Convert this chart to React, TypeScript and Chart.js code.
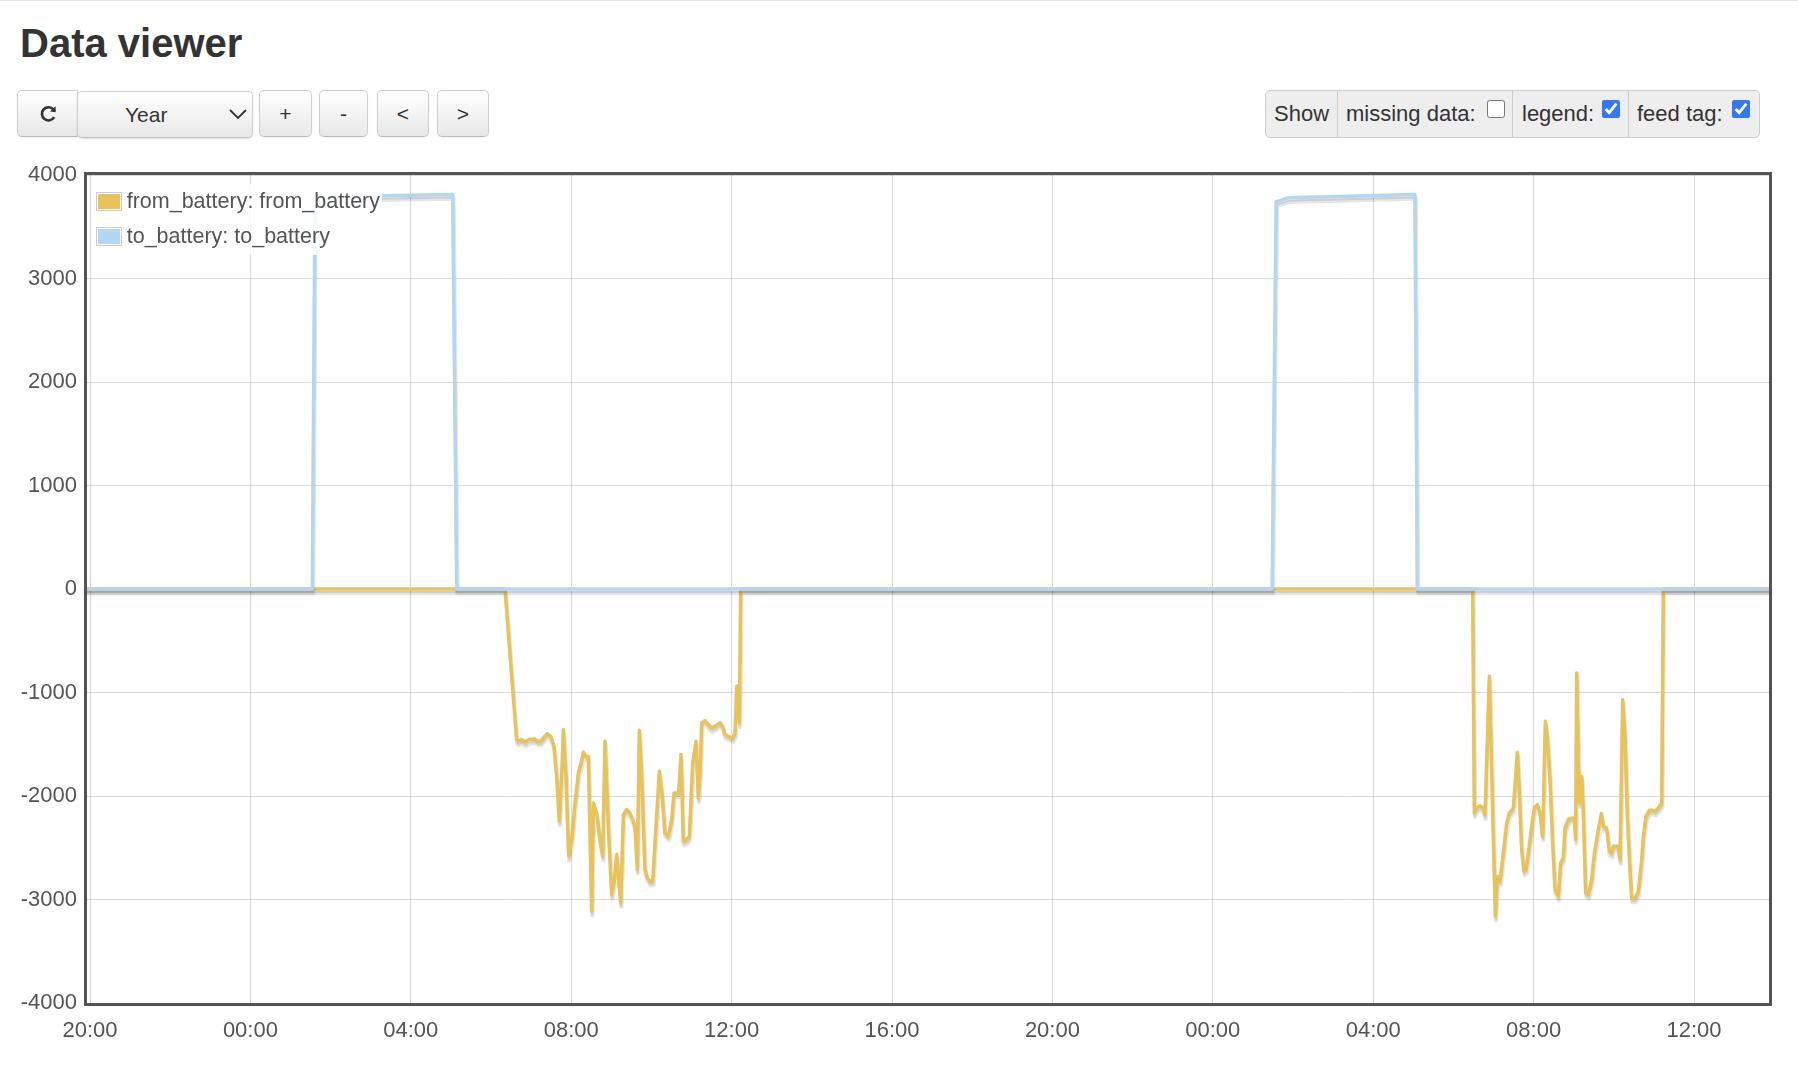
import React, { useEffect, useRef } from "react";
import { Chart, registerables } from "chart.js";

Chart.register(...registerables);

// x values are hours elapsed since 20:00 on the first day
const fromBatteryHours = [
  -0.1, 10.349, 10.64, 10.682, 10.765, 10.848, 10.931, 11.097, 11.155, 11.239, 11.305, 11.405, 11.488, 11.571,
  11.638, 11.704, 11.771, 11.804, 11.87, 11.937, 12.012, 12.095, 12.178, 12.244, 12.303, 12.369, 12.427, 12.51,
  12.552, 12.635, 12.718, 12.785, 12.843, 12.926, 13.009, 13.076, 13.134, 13.234, 13.3, 13.383, 13.466, 13.533,
  13.591, 13.649, 13.699, 13.757, 13.84, 13.899, 13.965, 14.032, 14.115, 14.198, 14.264, 14.339, 14.422, 14.506,
  14.564, 14.63, 14.68, 14.738, 14.796, 14.88, 14.946, 15.029, 15.112, 15.17, 15.212, 15.254, 15.337, 15.42,
  15.503, 15.586, 15.711, 15.777, 15.835, 15.918, 16.027, 16.085, 16.127, 16.168, 16.193, 16.226,
  34.48, 34.522, 34.58, 34.663, 34.73, 34.788, 34.896, 35.046, 35.096, 35.162, 35.245, 35.328, 35.395, 35.453,
  35.495, 35.594, 35.644, 35.703, 35.761, 35.81, 35.869, 35.952, 36.018, 36.093, 36.16, 36.226, 36.293, 36.342,
  36.409, 36.475, 36.534, 36.617, 36.675, 36.741, 36.783, 36.866, 36.949, 37.016, 37.049, 37.074, 37.116, 37.141,
  37.199, 37.24, 37.299, 37.365, 37.448, 37.515, 37.614, 37.689, 37.739, 37.822, 37.889, 37.947, 37.988, 38.055,
  38.113, 38.155, 38.221, 38.279, 38.338, 38.404, 38.446, 38.529, 38.612, 38.695, 38.737, 38.803, 38.886, 38.969,
  39.027, 39.111, 39.194, 39.235, 42.0,
];
const fromBatteryWatts = [
  0, 0, -1455, -1471, -1455, -1481, -1455, -1449, -1471, -1471, -1439, -1397, -1423, -1520,
  -1810, -2244, -1713, -1358, -1810, -2582, -2421, -2067, -1777, -1681, -1578, -1616, -1616, -3114,
  -2067, -2164, -2421, -2582, -1471, -2292, -2953, -2808, -2566, -3033, -2180, -2131, -2164, -2228,
  -2292, -2711, -1365, -1810, -2711, -2792, -2824, -2824, -2292, -1761, -1971, -2357, -2389, -2228,
  -1971, -1971, -1971, -1600, -2437, -2421, -2389, -1681, -1471, -2019, -1777, -1294, -1272, -1310,
  -1342, -1326, -1294, -1326, -1407, -1423, -1439, -1391, -940, -933, -1294, 0,
  0, -2164, -2116, -2093, -2116, -2180, -843, -3162, -2776, -2824, -2550, -2260, -2164, -2138,
  -2116, -1578, -1971, -2518, -2727, -2711, -2550, -2292, -2116, -2083, -2164, -2389, -1278, -1423,
  -1842, -2453, -2904, -2969, -2647, -2598, -2309, -2228, -2212, -2212, -2421, -811, -1648, -2067,
  -1810, -2164, -2936, -2953, -2808, -2550, -2325, -2170, -2292, -2309, -2534, -2550, -2486, -2486,
  -2486, -2615, -1069, -1423, -2196, -2711, -2985, -2985, -2920, -2615, -2389, -2196, -2138, -2138,
  -2148, -2116, -2067, 0, 0,
];
const toBatteryHours = [-0.1, 5.544, 5.611, 5.85, 9.045, 9.145, 29.48, 29.58, 29.88, 33.04, 33.1, 42.0];
const toBatteryWatts = [0, 0, 3750, 3790, 3811, 0, 0, 3740, 3779, 3811, 0, 0];

const seriesLabels = ["from_battery: from_battery", "to_battery: to_battery"];
const seriesColors = ["#e8c35a", "#b3d6f3"];

const xTickHours = [0, 4, 8, 12, 16, 20, 24, 28, 32, 36, 40];
const xTickLabels = ["20:00", "00:00", "04:00", "08:00", "12:00", "16:00", "20:00", "00:00", "04:00", "08:00", "12:00"];
const yTickValues = [-4000, -3000, -2000, -1000, 0, 1000, 2000, 3000, 4000];
const xMin = -0.075;
const xMax = 41.87;

const FONT = '"Liberation Sans", Arial, Helvetica, sans-serif';
const TEXT = "#545454";
const LW = 3.5;

const shadowPlugin = {
  id: "flotShadow",
  beforeDatasetDraw(chart: any, args: any) {
    const pts = args.meta.data;
    const ctx = chart.ctx;
    const ca = chart.chartArea;
    ctx.save();
    ctx.beginPath();
    ctx.rect(ca.left, ca.top, ca.right - ca.left, ca.bottom - ca.top);
    ctx.clip();
    ctx.lineJoin = "round";
    const sw = 4.5;
    const ang = Math.PI / 18;
    const passes = [
      [sw, LW / 2 + sw / 2],
      [sw / 2, LW / 2 + sw / 4],
    ];
    for (const [w, off] of passes) {
      ctx.lineWidth = w;
      ctx.strokeStyle = "rgba(0,0,0,0.1)";
      const dx = Math.sin(ang) * off;
      const dy = Math.cos(ang) * off;
      ctx.beginPath();
      pts.forEach((p: any, i: number) => {
        if (i === 0) ctx.moveTo(p.x + dx, p.y + dy);
        else ctx.lineTo(p.x + dx, p.y + dy);
      });
      ctx.stroke();
    }
    ctx.restore();
  },
};

const frameLegendPlugin = {
  id: "frameLegend",
  afterDatasetsDraw(chart: any) {
    const ctx = chart.ctx;
    const ca = chart.chartArea;
    ctx.save();
    ctx.strokeStyle = "#545454";
    ctx.lineWidth = 3;
    ctx.strokeRect(ca.left - 1.5, ca.top - 1.5, ca.right - ca.left + 3, ca.bottom - ca.top + 3);

    // legend (flot style, top-left inside the plot)
    ctx.fillStyle = "rgba(255,255,255,0.85)";
    ctx.fillRect(ca.left + 5, ca.top + 9, 290, 71);
    ctx.font = `21.5px ${FONT}`;
    ctx.textBaseline = "alphabetic";
    ctx.textAlign = "left";
    seriesLabels.forEach((label, i) => {
      const y0 = ca.top + 35 * i;
      ctx.strokeStyle = "#cccccc";
      ctx.lineWidth = 1;
      ctx.strokeRect(ca.left + 9.5, y0 + 17.5, 25, 18);
      ctx.fillStyle = seriesColors[i];
      ctx.fillRect(ca.left + 11, y0 + 19, 22, 15);
      ctx.fillStyle = TEXT;
      ctx.fillText(label, ca.left + 39.7, y0 + 33.3);
    });
    ctx.restore();
  },
};

function toPoints(xs: number[], ys: number[]) {
  return xs.map((x, i) => ({ x, y: ys[i] }));
}

const btnBase: React.CSSProperties = {
  position: "absolute",
  boxSizing: "border-box",
  background: "linear-gradient(#ffffff, #e8e8e8)",
  border: "1px solid #cfcfcf",
  borderBottomColor: "#bdbdbd",
  borderRadius: 5,
  boxShadow: "0 1px 2px rgba(0,0,0,0.06)",
  display: "flex",
  alignItems: "center",
  justifyContent: "center",
  color: "#333",
  fontFamily: FONT,
  fontSize: 21,
};

function Btn(props: { left: number; width: number; top?: number; height?: number; style?: React.CSSProperties; children?: React.ReactNode }) {
  return (
    <div
      style={{
        ...btnBase,
        left: props.left,
        top: props.top ?? 90,
        width: props.width,
        height: props.height ?? 47,
        ...(props.style || {}),
      }}
    >
      {props.children}
    </div>
  );
}

const labelSpan = (left: number, text: string): React.ReactNode => (
  <span
    style={{
      position: "absolute",
      left,
      top: 90,
      height: 48,
      display: "flex",
      alignItems: "center",
      fontFamily: FONT,
      fontSize: 22,
      color: "#333",
      whiteSpace: "nowrap",
    }}
  >
    {text}
  </span>
);

const checkbox = (left: number, checked: boolean): React.ReactNode => (
  <input
    type="checkbox"
    checked={checked}
    readOnly
    style={{
      position: "absolute",
      left,
      top: 100,
      width: 18,
      height: 18,
      margin: 0,
      accentColor: "#3478f6",
    }}
  />
);

export default function App() {
  const canvasRef = useRef<HTMLCanvasElement | null>(null);

  useEffect(() => {
    if (!canvasRef.current) return;
    const chart = new Chart(canvasRef.current, {
      type: "line",
      data: {
        datasets: [
          {
            label: seriesLabels[0],
            data: toPoints(fromBatteryHours, fromBatteryWatts),
            borderColor: seriesColors[0],
            backgroundColor: seriesColors[0],
            borderWidth: LW,
            borderJoinStyle: "round",
            pointRadius: 0,
            tension: 0,
            fill: false,
            order: 1,
          },
          {
            label: seriesLabels[1],
            data: toPoints(toBatteryHours, toBatteryWatts),
            borderColor: seriesColors[1],
            backgroundColor: seriesColors[1],
            borderWidth: LW,
            borderJoinStyle: "round",
            pointRadius: 0,
            tension: 0,
            fill: false,
            order: 0,
          },
        ],
      },
      options: {
        animation: false,
        responsive: false,
        maintainAspectRatio: false,
        layout: { padding: { top: 35, right: 29, left: 0, bottom: 0 } },
        plugins: { legend: { display: false }, tooltip: { enabled: false } },
        scales: {
          x: {
            type: "linear",
            min: xMin,
            max: xMax,
            afterBuildTicks: (s: any) => {
              s.ticks = xTickHours.map((v) => ({ value: v }));
            },
            afterFit: (s: any) => {
              s.height = 62;
            },
            ticks: {
              autoSkip: false,
              maxRotation: 0,
              padding: 15,
              color: TEXT,
              font: { family: FONT, size: 22 },
              callback: (_v: any, i: number) => xTickLabels[i],
            },
            grid: { color: "rgba(84,84,84,0.22)", lineWidth: 1, drawTicks: false },
            border: { display: false },
          },
          y: {
            type: "linear",
            min: -4000,
            max: 4000,
            afterBuildTicks: (s: any) => {
              s.ticks = yTickValues.map((v) => ({ value: v }));
            },
            afterFit: (s: any) => {
              s.width = 87;
            },
            ticks: {
              padding: 10,
              color: TEXT,
              font: { family: FONT, size: 22 },
              callback: (v: any) => String(v),
            },
            grid: { color: "rgba(84,84,84,0.22)", lineWidth: 1, drawTicks: false },
            border: { display: false },
          },
        },
      } as any,
      plugins: [shadowPlugin, frameLegendPlugin],
    });
    return () => chart.destroy();
  }, []);

  return (
    <div style={{ position: "absolute", left: 0, top: 0, width: 1798, height: 1068, overflow: "hidden", background: "#fff" }}>
      <div style={{ position: "absolute", left: 0, top: 0, width: 1798, height: 1, background: "#e6e6e6" }} />
      <div
        style={{
          position: "absolute",
          left: 20,
          top: 23,
          fontFamily: FONT,
          fontWeight: "bold",
          fontSize: 40,
          lineHeight: "40px",
          color: "#333",
          whiteSpace: "nowrap",
        }}
      >
        Data viewer
      </div>

      <Btn left={17} width={61} style={{ borderRadius: "5px 0 0 5px" }}>
        <svg width="22" height="22" viewBox="0 0 22 22" style={{ marginLeft: 2 }}>
          <path d="M16.2 14.2 A6.6 6.6 0 1 1 15.6 6.6" fill="none" stroke="#333" strokeWidth="2.6" />
          <path d="M17.6 3.2 L17.8 9.2 L12 8.4 Z" fill="#333" />
        </svg>
      </Btn>
      <Btn left={77} width={176} top={91} style={{ justifyContent: "flex-start", boxShadow: "0 1px 2px rgba(0,0,0,0.12)" }}>
        <span style={{ position: "absolute", left: 47 }}>Year</span>
        <svg width="20" height="12" viewBox="0 0 20 12" style={{ position: "absolute", left: 150, top: 16 }}>
          <polyline points="2,2 10,10 18,2" fill="none" stroke="#333" strokeWidth="1.8" />
        </svg>
      </Btn>
      <Btn left={259} width={53}>+</Btn>
      <Btn left={319} width={49}>-</Btn>
      <Btn left={377} width={52}>&lt;</Btn>
      <Btn left={437} width={52}>&gt;</Btn>

      <div
        style={{
          position: "absolute",
          left: 1265,
          top: 90,
          width: 495,
          height: 48,
          boxSizing: "border-box",
          background: "#eeeeee",
          border: "1px solid #cccccc",
          borderRadius: 5,
        }}
      />
      <div style={{ position: "absolute", left: 1337, top: 91, width: 1, height: 46, background: "#cccccc" }} />
      <div style={{ position: "absolute", left: 1512, top: 91, width: 1, height: 46, background: "#cccccc" }} />
      <div style={{ position: "absolute", left: 1628, top: 91, width: 1, height: 46, background: "#cccccc" }} />
      {labelSpan(1274, "Show")}
      {labelSpan(1346, "missing data:")}
      {checkbox(1487, false)}
      {labelSpan(1522, "legend:")}
      {checkbox(1602, true)}
      {labelSpan(1637, "feed tag:")}
      {checkbox(1732, true)}

      <canvas
        ref={canvasRef}
        width={1798}
        height={925}
        style={{ position: "absolute", left: 0, top: 140, width: 1798, height: 925 }}
      />
    </div>
  );
}
